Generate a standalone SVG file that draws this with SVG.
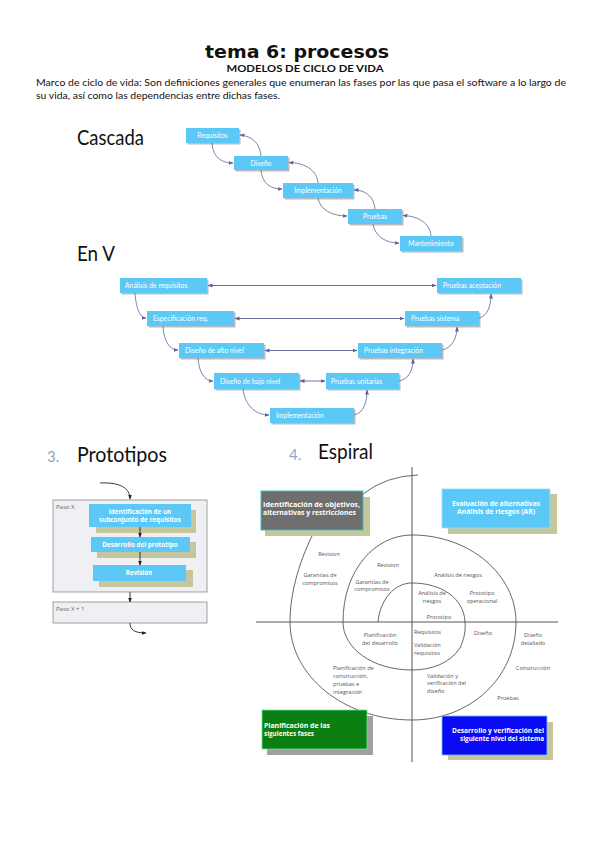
<svg xmlns="http://www.w3.org/2000/svg" width="599" height="848" viewBox="0 0 599 848">
<defs>
<marker id="ah" viewBox="0 0 10 10" refX="9" refY="5" markerWidth="5" markerHeight="5" orient="auto-start-reverse" markerUnits="userSpaceOnUse">
<path d="M0,1 L10,5 L0,9 z" fill="#5a6595"/>
</marker>
<marker id="ak" viewBox="0 0 10 10" refX="9" refY="5" markerWidth="5" markerHeight="5" orient="auto" markerUnits="userSpaceOnUse">
<path d="M0,1 L10,5 L0,9 z" fill="#222"/>
</marker>
</defs>
<style>
.bx{fill:#5cc8f6}
.sh{fill:#b9bcc4}
.bt{font-family:Lato,"Open Sans",sans-serif;font-size:6.8px;fill:#fff}
.bc{text-anchor:middle}
.h{font-family:Lato,"Open Sans",sans-serif;font-size:21px;fill:#111}
.num{font-family:Lato,"Open Sans",sans-serif;font-size:15px;fill:#8ea4c8}
.cn{fill:none;stroke:#5a6595;stroke-width:0.8}
.vl{fill:none;stroke:#6a72a3;stroke-width:1}
.st{font-family:"Open Sans",Lato,sans-serif;font-size:5.6px;fill:#555}
.mid{text-anchor:middle}
.wb{font-family:"Open Sans",Lato,sans-serif;font-size:6.2px;font-weight:bold;fill:#fff}
.ax{stroke:#444;stroke-width:0.9;fill:none}
.sp{stroke:#555;stroke-width:0.9;fill:none}
.kh{fill:#c5c69c}
.pb{fill:#5cc8f6}
.pt{font-family:"Open Sans",Lato,sans-serif;font-size:6.3px;font-weight:bold;fill:#fff;text-anchor:middle}
.pa{stroke:#222;stroke-width:0.9;fill:none}
</style>
<rect width="599" height="848" fill="#fff"/>

<g id="header">
<text x="297" y="58" text-anchor="middle" font-family="DejaVu Sans,sans-serif" font-weight="bold" font-size="18" fill="#111" textLength="184" lengthAdjust="spacingAndGlyphs">tema 6: procesos</text>
<text x="305" y="72" text-anchor="middle" font-family="Lato,sans-serif" font-weight="bold" font-size="9.5" fill="#111" textLength="157" lengthAdjust="spacingAndGlyphs">MODELOS DE CICLO DE VIDA</text>
<text x="36" y="86" font-family="Lato,sans-serif" font-size="9" fill="#111" textLength="530" lengthAdjust="spacingAndGlyphs">Marco de ciclo de vida: Son definiciones generales que enumeran las fases por las que pasa el software a lo largo de</text>
<text x="36" y="99" font-family="Lato,sans-serif" font-size="9" fill="#111" textLength="244" lengthAdjust="spacingAndGlyphs">su vida, así como las dependencias entre dichas fases.</text>
</g>

<!-- Cascada -->
<text class="h" x="77" y="145" textLength="67" lengthAdjust="spacingAndGlyphs">Cascada</text>
<g id="c-req"><rect class="sh" x="187.5" y="129.5" width="53" height="15"/><rect class="bx" x="186" y="128" width="53" height="15"/><text class="bt bc" x="212.5" y="137.8">Requisitos</text></g>
<g id="c-dis"><rect class="sh" x="235.5" y="157.5" width="54" height="14"/><rect class="bx" x="234" y="156" width="54" height="14"/><text class="bt bc" x="261" y="165.5">Diseño</text></g>
<g id="c-imp"><rect class="sh" x="284.5" y="184.5" width="70" height="15"/><rect class="bx" x="283" y="183" width="70" height="15"/><text class="bt bc" x="318" y="193">Implementación</text></g>
<g id="c-pru"><rect class="sh" x="349.5" y="210.5" width="54" height="15"/><rect class="bx" x="348" y="209" width="54" height="15"/><text class="bt bc" x="375" y="219">Pruebas</text></g>
<g id="c-man"><rect class="sh" x="401.5" y="237.5" width="62" height="15"/><rect class="bx" x="400" y="236" width="62" height="15"/><text class="bt bc" x="431" y="246">Mantenimiento</text></g>
<g id="c-connectors">
<path class="cn" marker-end="url(#ah)" d="M212 143 C213 157 221 163 233 163"/>
<path class="cn" marker-end="url(#ah)" d="M261 156 C260 143 252 136 240 135"/>
<path class="cn" marker-end="url(#ah)" d="M261 170 C262 183 270 189 282 189"/>
<path class="cn" marker-end="url(#ah)" d="M318 183 C317 170 305 163 289 162.5"/>
<path class="cn" marker-end="url(#ah)" d="M318 198 C320 210 332 216 347 216"/>
<path class="cn" marker-end="url(#ah)" d="M375 209 C374 197 366 190 354 190"/>
<path class="cn" marker-end="url(#ah)" d="M373 224 C375 236 385 243 399 243"/>
<path class="cn" marker-end="url(#ah)" d="M431 236 C430 223 418 216 403 215.5"/>
</g>

<!-- En V -->
<text class="h" x="77" y="261" textLength="38" lengthAdjust="spacingAndGlyphs">En V</text>
<g id="v-ana"><rect class="sh" x="121.5" y="279.5" width="87" height="15"/><rect class="bx" x="120" y="278" width="87" height="15"/><text class="bt" x="125" y="288">Análisis de requisitos</text></g>
<g id="v-esp"><rect class="sh" x="148.5" y="312.5" width="87" height="15"/><rect class="bx" x="147" y="311" width="87" height="15"/><text class="bt" x="153" y="321">Especificación req.</text></g>
<g id="v-dal"><rect class="sh" x="180.5" y="344.5" width="85" height="15"/><rect class="bx" x="179" y="343" width="85" height="15"/><text class="bt" x="185" y="353">Diseño de alto nivel</text></g>
<g id="v-dba"><rect class="sh" x="215.5" y="374.5" width="85" height="16"/><rect class="bx" x="214" y="373" width="85" height="16"/><text class="bt" x="220" y="383.5">Diseño de bajo nivel</text></g>
<g id="v-imp"><rect class="sh" x="271.5" y="409.5" width="84" height="15"/><rect class="bx" x="270" y="408" width="84" height="15"/><text class="bt" x="276" y="418">Implementación</text></g>
<g id="v-pun"><rect class="sh" x="327.5" y="374.5" width="73" height="16"/><rect class="bx" x="326" y="373" width="73" height="16"/><text class="bt" x="331" y="383.5">Pruebas unitarias</text></g>
<g id="v-pin"><rect class="sh" x="359.5" y="344.5" width="84" height="15"/><rect class="bx" x="358" y="343" width="84" height="15"/><text class="bt" x="364" y="353">Pruebas integración</text></g>
<g id="v-psi"><rect class="sh" x="406.5" y="312.5" width="74" height="15"/><rect class="bx" x="405" y="311" width="74" height="15"/><text class="bt" x="411" y="321">Pruebas sistema</text></g>
<g id="v-pac"><rect class="sh" x="438.5" y="279.5" width="84" height="15"/><rect class="bx" x="437" y="278" width="84" height="15"/><text class="bt" x="443" y="288">Pruebas aceptación</text></g>
<g id="v-connectors">
<path class="vl" stroke-width="0.7" marker-start="url(#ah)" marker-end="url(#ah)" d="M208 285.5 L436 285.5"/>
<path class="vl" stroke-width="0.9" marker-start="url(#ah)" marker-end="url(#ah)" d="M235 318.5 L404 318.5"/>
<path class="vl" stroke-width="1.1" marker-start="url(#ah)" marker-end="url(#ah)" d="M265 350.5 L357 350.5"/>
<path class="vl" stroke-width="1.2" marker-start="url(#ah)" marker-end="url(#ah)" d="M300 381 L325 381"/>
<path class="cn" marker-end="url(#ah)" d="M135 293 C136 308 140 318 146 318"/>
<path class="cn" marker-end="url(#ah)" d="M163 326 C164 342 170 350 178 350"/>
<path class="cn" marker-end="url(#ah)" d="M198 358 C199 373 205 381 213 381"/>
<path class="cn" marker-end="url(#ah)" d="M243 389 C245 405 255 415 269 415"/>
<path class="cn" marker-end="url(#ah)" d="M354 415 C364 413 367 402 367 390"/>
<path class="cn" marker-end="url(#ah)" d="M399 381 C409 379 413 370 413 359"/>
<path class="cn" marker-end="url(#ah)" d="M442 350 C452 348 457 338 457 327"/>
<path class="cn" marker-end="url(#ah)" d="M479 318 C488 316 491 305 491 294"/>
</g>

<!-- Prototipos -->
<text class="num" x="47" y="462">3.</text>
<text class="h" x="77" y="462" textLength="90" lengthAdjust="spacingAndGlyphs">Prototipos</text>
<g id="p-pasox">
<rect x="53" y="500" width="154" height="92" fill="#eef0f4" stroke="#8a8a8a" stroke-width="0.8"/>
<text x="56" y="509" font-family="'Open Sans',sans-serif" font-size="6" fill="#666">Paso X</text>
</g>
<g id="p-ident"><rect class="kh" x="96" y="510" width="100" height="23"/><rect class="pb" x="89" y="504" width="102" height="23"/><text class="pt" x="140" y="513.5">Identificación de un</text><text class="pt" x="140" y="521.5">subconjunto de requisitos</text></g>
<g id="p-desa"><rect class="kh" x="97" y="542" width="99" height="16"/><rect class="pb" x="91" y="537" width="99" height="15"/><text class="pt" x="140" y="547">Desarrollo del prototipo</text></g>
<g id="p-rev"><rect class="kh" x="99" y="570" width="94" height="17"/><rect class="pb" x="93" y="565" width="93" height="16"/><text class="pt" x="139" y="575">Revisión</text></g>
<g id="p-pasox1">
<rect x="53" y="602" width="154" height="21" fill="#eef0f4" stroke="#8a8a8a" stroke-width="0.8"/>
<text x="56" y="611" font-family="'Open Sans',sans-serif" font-size="6" fill="#666">Paso X + 1</text>
</g>
<g id="p-connectors">
<path class="pa" marker-end="url(#ak)" d="M100 483 C120 482 130 488 130 499"/>
<path class="pa" marker-end="url(#ak)" d="M140 527 L140 537"/>
<path class="pa" marker-end="url(#ak)" d="M140 552 L140 565"/>
<path class="pa" marker-end="url(#ak)" d="M130 592 L130 602"/>
<path class="pa" marker-end="url(#ak)" d="M130 623 C130 630 135 633 146 633"/>
</g>

<!-- Espiral -->
<text class="num" x="289" y="460">4.</text>
<text class="h" x="318" y="459" textLength="55" lengthAdjust="spacingAndGlyphs">Espiral</text>
<g id="s-axes">
<path class="ax" d="M412 467 L412 762"/>
<path class="ax" d="M256 622 L558 622"/>
</g>
<g id="s-spiral">
<path class="sp" d="M378 622 C380 600 394 583 412 583 C441 583 464 598 465 622 C466 633 463 641 460 648 C450 663 432 670 412 670 C372 670 343 648 343 622 C343 570 375 535 412 535 C470 535 516 575 516 622 C516 678 470 720 412 720 C344 720 290 676 290 622 C290 590 301 557 315 530"/>
<path class="sp" d="M363 494 Q386 476 418 475"/>
</g>
<g id="s-ident"><rect class="kh" x="265" y="497" width="105" height="39"/><rect x="261" y="491" width="102" height="39" fill="#6e6e6e" stroke="#3fc1bd" stroke-width="1"/><text class="wb" x="263" y="507" textLength="97" lengthAdjust="spacingAndGlyphs">Identificación de objetivos,</text><text class="wb" x="263" y="515" textLength="93" lengthAdjust="spacingAndGlyphs">alternativas y restricciones</text></g>
<g id="s-eval"><rect class="kh" x="448" y="494" width="109" height="40"/><rect x="442" y="489" width="108" height="39" fill="#5cc8f8" stroke="#8ee0fb" stroke-width="0.8"/><text class="wb mid" x="496" y="506" textLength="88" lengthAdjust="spacingAndGlyphs">Evaluación de alternativas</text><text class="wb mid" x="496" y="514" textLength="78" lengthAdjust="spacingAndGlyphs">Análisis de riesgos (AR)</text></g>
<g id="s-plan"><rect x="267" y="716" width="106" height="39" fill="#a0a0a0"/><rect x="262" y="710" width="105" height="39" fill="#0b7f12" stroke="#6ee0a0" stroke-width="0.8"/><text class="wb" x="264" y="728" textLength="66" lengthAdjust="spacingAndGlyphs">Planificación de las</text><text class="wb" x="264" y="736" textLength="50" lengthAdjust="spacingAndGlyphs">siguientes fases</text></g>
<g id="s-desa"><rect class="kh" x="448" y="722" width="105" height="38"/><rect x="442" y="716" width="105" height="39" fill="#0a0af5" stroke="#6ec8e8" stroke-width="0.8"/><text class="wb" x="544" y="733" text-anchor="end" textLength="92" lengthAdjust="spacingAndGlyphs">Desarrollo y verificación del</text><text class="wb" x="544" y="741" text-anchor="end" textLength="84" lengthAdjust="spacingAndGlyphs">siguiente nivel del sistema</text></g>
<g id="s-labels">
<text class="st mid" x="329" y="556">Revision</text>
<text class="st mid" x="320" y="577">Garantías de</text>
<text class="st mid" x="320" y="585">compromisos</text>
<text class="st mid" x="388" y="567">Revision</text>
<text class="st mid" x="372" y="584">Garantías de</text>
<text class="st mid" x="372" y="591">compromisos</text>
<text class="st mid" x="458" y="577">Análisis de riesgos</text>
<text class="st mid" x="432" y="595">Análisis de</text>
<text class="st mid" x="432" y="603">riesgos</text>
<text class="st mid" x="482" y="595">Prototipo</text>
<text class="st mid" x="482" y="603">operacional</text>
<text class="st mid" x="439" y="619">Prototipo</text>
<text class="st" x="414" y="634">Requisitos</text>
<text class="st" x="414" y="647">Validación</text>
<text class="st" x="414" y="655">requisitos</text>
<text class="st mid" x="483" y="635">Diseño</text>
<text class="st mid" x="533" y="637">Diseño</text>
<text class="st mid" x="533" y="645">detallado</text>
<text class="st mid" x="533" y="670">Construcción</text>
<text class="st" x="427" y="678">Validación y</text>
<text class="st" x="427" y="685">verificación del</text>
<text class="st" x="427" y="693">diseño</text>
<text class="st mid" x="508" y="700">Pruebas</text>
<text class="st mid" x="380" y="637">Planificación</text>
<text class="st mid" x="380" y="645">del desarrollo</text>
<text class="st" x="333" y="670">Planificación de</text>
<text class="st" x="333" y="678">construcción,</text>
<text class="st" x="333" y="686">pruebas e</text>
<text class="st" x="333" y="694">integración</text>
</g>
</svg>
